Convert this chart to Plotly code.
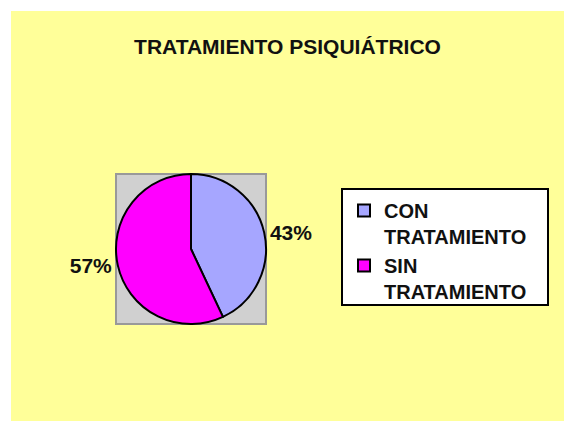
import plotly.graph_objects as go

labels = ['CON<br>TRATAMIENTO', 'SIN<br>TRATAMIENTO']
values = [43, 57]
colors = ['#A6A6FF', '#FF00FF']
title = 'TRATAMIENTO PSIQUIÁTRICO'

W, H = 564, 421


def px(x):
    return x / W


def py(y):
    return 1 - y / H


FONT = 'Liberation Sans, Arial, sans-serif'

fig = go.Figure(go.Pie(
    labels=labels,
    values=values,
    marker=dict(colors=colors, line=dict(color='black', width=2)),
    sort=False,
    direction='clockwise',
    rotation=0,
    textposition='outside',
    texttemplate='%{percent:.0%}',
    textfont=dict(family=FONT, size=21, color='#111111', weight='bold'),
    domain=dict(x=[px(116), px(266)], y=[py(324), py(174)]),
    hoverinfo='label+percent',
))

fig.update_layout(
    width=W, height=H,
    margin=dict(l=0, r=0, t=0, b=0),
    paper_bgcolor='white',
    title=dict(text=title, x=px(287.5), y=py(47), xanchor='center', yanchor='middle',
               font=dict(family=FONT, size=21, color='#111111', weight='bold')),
    legend=dict(
        x=px(344), y=py(191), xanchor='left', yanchor='top',
        bgcolor='rgba(0,0,0,0)', borderwidth=0,
        font=dict(family=FONT, size=20, color='#111111', weight='bold'),
        valign='top',
    ),
    shapes=[
        # yellow chart area
        dict(type='rect', xref='paper', yref='paper', layer='below',
             x0=px(11), x1=1, y0=0, y1=py(11),
             fillcolor='#FFFF99', line=dict(width=0)),
        # grey plot area behind the pie
        dict(type='rect', xref='paper', yref='paper', layer='below',
             x0=px(116), x1=px(266), y0=py(324), y1=py(174),
             fillcolor='#D0D0D0', line=dict(color='#999999', width=2)),
        # legend frame
        dict(type='rect', xref='paper', yref='paper', layer='below',
             x0=px(342), x1=px(548), y0=py(305), y1=py(189),
             fillcolor='white', line=dict(color='black', width=2)),
    ],
)

# drop the page's default margin and scrollbars so the figure fills the window;
# the page behind the figure gets the chart colour so the right edge stays yellow
fig.write_html('out.html', config={'displayModeBar': False},
               post_script="document.body.style.margin='0';"
                           "document.body.style.overflow='hidden';"
                           "document.documentElement.style.overflow='hidden';"
                           "document.documentElement.style.background='#FFFF99';")
